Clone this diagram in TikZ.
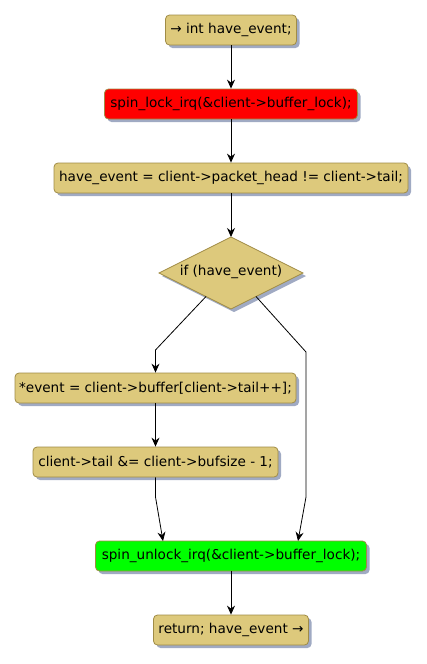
\documentclass[tikz,border=0pt]{standalone}
\usepackage{fontspec}
\setmainfont{DejaVu Sans}
\usetikzlibrary{arrows.meta,shadows,calc}
\definecolor{tan}{RGB}{221,201,124}
\definecolor{tanborder}{RGB}{160,140,70}
\definecolor{shadowc}{RGB}{160,170,195}
\begin{document}
\begin{tikzpicture}[x=1pt,y=-1pt,
  every node/.style={font=\fontsize{13.6}{16}\selectfont},
  act/.style={draw=tanborder, line width=0.8pt, fill=tan, rounded corners=4pt,
    minimum height=30pt, inner sep=0pt,
    drop shadow={shadow xshift=3pt, shadow yshift=-3pt, fill=shadowc, opacity=1}},
  conn/.style={line width=0.8pt, -{Stealth[length=9pt,width=8pt,inset=3pt]}}]
\useasboundingbox (0,0) rectangle (426,664);
\node[act, minimum width=131pt] (n1) at (231,30) {→ int have\_event;};
\node[act, fill=red, minimum width=253pt] (n2) at (231,104) {spin\_lock\_irq(\&client->buffer\_lock);};
\node[act, minimum width=354pt] (n3) at (231,178) {have\_event = client->packet\_head != client->tail;};
\fill[shadowc] (234,240) -- (306,276) -- (234,312) -- (162,276) -- cycle;
\draw[draw=tanborder, line width=0.8pt, fill=tan] (231,237) -- (303,273) -- (231,309) -- (159,273) -- cycle;
\node[inner sep=0pt] (d) at (231,272) {if (have\_event)};
\coordinate (dl) at (206,296.5);
\coordinate (dr) at (256,296.5);
\node[act, minimum width=281pt] (n5) at (155.5,388) {*event = client->buffer[client->tail++];};
\node[act, minimum width=245pt] (n6) at (155.5,462) {client->tail \&= client->bufsize - 1;};
\node[act, fill=green, minimum width=271pt] (n7) at (231,556) {spin\_unlock\_irq(\&client->buffer\_lock);};
\node[act, minimum width=155pt] (n8) at (231,630) {return; have\_event →};
\draw[conn] (n1) -- (n2);
\draw[conn] (n2) -- (n3);
\draw[conn] (n3.south) -- (231,237);
\draw[conn] (dl) -- (155.5,350) -- (n5.north);
\draw[conn] (n5) -- (n6);
\draw[conn] (dr) -- (306,352) -- (306,497) -- (298,541);
\draw[conn] (n6.south) -- (155.5,497) -- (163,541);
\draw[conn] (n7) -- (n8);
\end{tikzpicture}
\end{document}
